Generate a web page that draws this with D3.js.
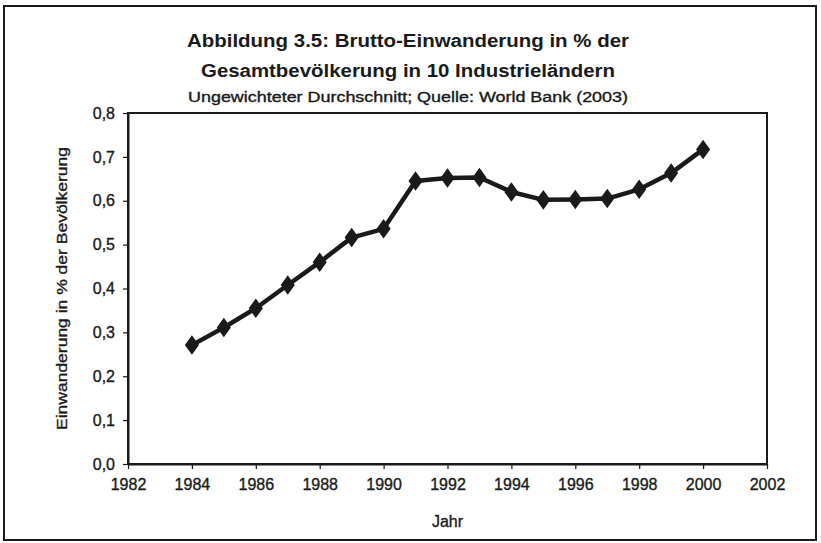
<!doctype html>
<html lang="de">
  <head>
    <meta charset="utf-8">
    <title>Brutto-Einwanderung</title>
    <script src="https://d3js.org/d3.v7.min.js"></script>
    <style>
    body { margin: 0; background: #fff; }
    text { font-family: "Liberation Sans", Arial, sans-serif; fill: #1a1a1a; }
    .heavy { stroke: #1a1a1a; stroke-width: 0.35px; }
    </style>
  </head>
  <body>
    <svg width="821" height="543"></svg>
    <script>
      // data
      var years = [1984, 1985, 1986, 1987, 1988, 1989, 1990, 1991, 1992, 1993, 1994, 1995, 1996, 1997, 1998, 1999, 2000];
      var values = [0.271, 0.311, 0.355, 0.408, 0.460, 0.516, 0.536, 0.645, 0.652, 0.653, 0.620, 0.602, 0.603, 0.605, 0.626, 0.663, 0.717];
      var xTicks = [1982, 1984, 1986, 1988, 1990, 1992, 1994, 1996, 1998, 2000, 2002];
      var yTicks = [0, 0.1, 0.2, 0.3, 0.4, 0.5, 0.6, 0.7, 0.8];

      var data = years.map(function(y, i){ return { year: y, value: values[i] }; });

      var svg = d3.select('svg');
      var ink = '#1a1a1a';

      // outer frame
      svg.append('rect')
        .attr('x', 4).attr('y', 6)
        .attr('width', 812).attr('height', 534)
        .attr('fill', 'none').attr('stroke', ink).attr('stroke-width', 2);

      // plot box (names avoid window.top)
      var pLeft = 128, pRight = 767, pTop = 113, pBottom = 464;

      var x = d3.scaleLinear().domain([1982, 2002]).range([pLeft, pRight]);
      var y = d3.scaleLinear().domain([0, 0.8]).range([pBottom, pTop]);

      var comma = function(d){ return d3.format('.1f')(d).replace('.', ','); };

      // titles
      var title = svg.append('g');
      title.append('text')
        .attr('x', 408).attr('y', 47)
        .attr('text-anchor', 'middle')
        .attr('font-size', 18).attr('font-weight', 'bold')
        .attr('textLength', 442).attr('lengthAdjust', 'spacingAndGlyphs')
        .text('Abbildung 3.5: Brutto-Einwanderung in % der');
      title.append('text')
        .attr('x', 408).attr('y', 77)
        .attr('text-anchor', 'middle')
        .attr('font-size', 18).attr('font-weight', 'bold')
        .attr('textLength', 414).attr('lengthAdjust', 'spacingAndGlyphs')
        .text('Gesamtbevölkerung in 10 Industrieländern');
      title.append('text')
        .attr('class', 'heavy')
        .attr('x', 408).attr('y', 102)
        .attr('text-anchor', 'middle')
        .attr('font-size', 14)
        .attr('textLength', 440).attr('lengthAdjust', 'spacingAndGlyphs')
        .text('Ungewichteter Durchschnitt; Quelle: World Bank (2003)');

      // plot frame
      svg.append('rect')
        .attr('x', pLeft).attr('y', pTop)
        .attr('width', pRight - pLeft).attr('height', pBottom - pTop)
        .attr('fill', 'none').attr('stroke', ink).attr('stroke-width', 2);

      var xAxis = d3.axisBottom(x).tickValues(xTicks).tickFormat(d3.format('d'))
        .tickSizeInner(5).tickSizeOuter(0).tickPadding(10);
      var yAxis = d3.axisLeft(y).tickValues(yTicks).tickFormat(comma)
        .tickSizeInner(5).tickSizeOuter(0).tickPadding(8);

      var gx = svg.append('g')
        .attr('transform', 'translate(0,' + pBottom + ')')
        .call(xAxis);
      var gy = svg.append('g')
        .attr('transform', 'translate(' + pLeft + ',0)')
        .call(yAxis);

      [gx, gy].forEach(function(g){
        g.select('.domain').attr('stroke', ink).attr('stroke-width', 2);
        g.selectAll('.tick line').attr('stroke', ink).attr('stroke-width', 1.2);
        g.selectAll('.tick text')
          .attr('class', 'heavy')
          .attr('font-family', '"Liberation Sans", Arial, sans-serif')
          .attr('font-size', 16).attr('fill', ink);
      });

      // axis titles
      svg.append('text')
        .attr('class', 'heavy')
        .attr('x', (pLeft + pRight) / 2).attr('y', 527)
        .attr('text-anchor', 'middle')
        .attr('font-size', 16)
        .text('Jahr');
      svg.append('text')
        .attr('class', 'heavy')
        .attr('transform', 'translate(67,' + ((pTop + pBottom) / 2) + ') rotate(-90)')
        .attr('text-anchor', 'middle')
        .attr('font-size', 15)
        .attr('textLength', 283).attr('lengthAdjust', 'spacingAndGlyphs')
        .text('Einwanderung in % der Bevölkerung');

      // line + markers
      var line = d3.line()
        .x(function(d){ return x(d.year); })
        .y(function(d){ return y(d.value); });

      svg.append('path')
        .datum(data)
        .attr('d', line)
        .attr('fill', 'none')
        .attr('stroke', ink)
        .attr('stroke-width', 4.5)
        .attr('stroke-linejoin', 'round');

      svg.append('g').selectAll('path')
        .data(data)
        .enter()
        .append('path')
          .attr('d', d3.symbol().type(d3.symbolDiamond).size(110))
          .attr('transform', function(d){
            return 'translate(' + x(d.year) + ',' + y(d.value) + ') scale(1.25,1)';
          })
          .attr('fill', ink);
    </script>
  </body>
</html>
